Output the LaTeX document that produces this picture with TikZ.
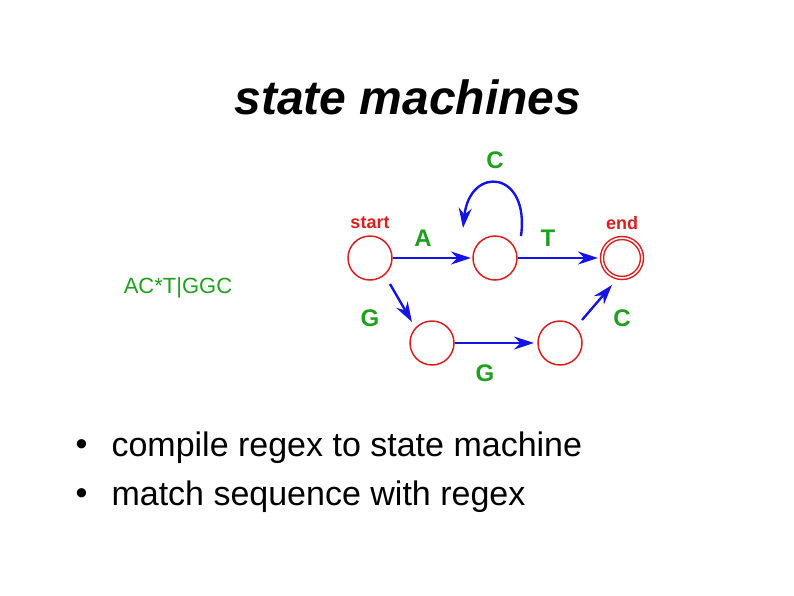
\documentclass[tikz,border=0pt]{standalone}
\usepackage{fontspec}
\setmainfont{Liberation Sans}
\usetikzlibrary{arrows.meta}
\definecolor{sred}{RGB}{220,30,30}
\definecolor{sgreen}{RGB}{30,160,30}
\definecolor{sblue}{RGB}{20,20,230}
\begin{document}
\begin{tikzpicture}[x=1pt,y=-1pt,
  st/.style={circle,draw=sred,line width=1.5pt,minimum size=44pt,inner sep=0pt},
  lab/.style={font=\fontsize{24}{26}\selectfont\bfseries,text=sgreen},
  rlab/.style={font=\fontsize{18}{20}\selectfont\bfseries,text=sred},
  bul/.style={anchor=west,font=\fontsize{34}{38}\selectfont},
  arr/.style={draw=sblue,line width=2.4pt,-{Stealth[length=20pt,width=13pt]}}]
\useasboundingbox (0,0) rectangle (794,595);
\node (title) at (408,97) {\fontsize{48}{52}\selectfont\bfseries\itshape state machines};
\node[st] (s) at (370,258) {};
\node[st] (m) at (495,258) {};
\node[st,double=white,double distance=1.5pt,minimum size=40pt] (e) at (622,258) {};
\node[st] (bl) at (432,343) {};
\node[st] (br) at (560,343) {};
\node[rlab] (ls) at (370,223) {start};
\node[rlab] (le) at (622,223) {end};
\node[lab] (la) at (423,238) {A};
\node[lab] (lt) at (548,238) {T};
\node[lab] (lc) at (495,160) {C};
\node[lab] (lg) at (370,318) {G};
\node[lab] (lc2) at (622,318) {C};
\node[lab] (lg2) at (485,373) {G};
\node[text=sgreen,font=\fontsize{22}{24}\selectfont] (re) at (178,288) {AC*T|GGC};
\draw[arr] (s.east) -- (471,258);
\draw[arr] (m.east) -- (598,258);
\draw[arr] (390,284) -- (412,322);
\draw[arr] (bl.east) -- (534,343);
\draw[arr] (582,320) -- (612,285);
\draw[arr] (521,236) .. controls (530,170) and (470,165) .. (463,228);
\node[bul] (d1) at (72,448) {\textbullet};
\node[bul] (b1) at (108,448) {compile regex to state machine};
\node[bul] (d2) at (72,497) {\textbullet};
\node[bul] (b2) at (108,497) {match sequence with regex};
\end{tikzpicture}
\end{document}
